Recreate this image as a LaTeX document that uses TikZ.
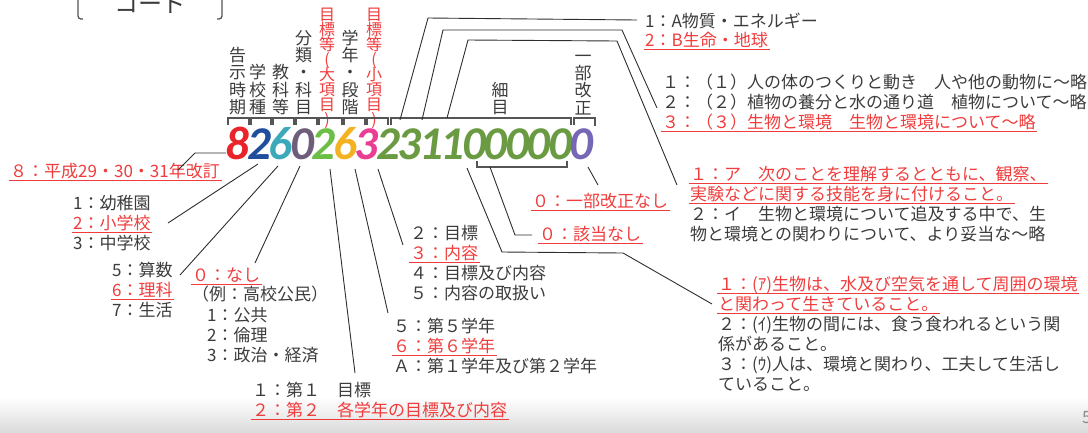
\documentclass[tikz,border=0pt]{standalone}
\usepackage{fontspec}
\setmainfont{Noto Sans CJK JP}
\newfontfamily\digfont{Carlito}
\usetikzlibrary{calc}
\definecolor{tred}{HTML}{F03C3C}
\definecolor{tblk}{HTML}{3C3C3C}
\definecolor{lnc}{HTML}{2E2E2E}
\definecolor{brk}{HTML}{555555}
\definecolor{c8}{HTML}{E8232A}
\definecolor{c2}{HTML}{1F4F9C}
\definecolor{c6}{HTML}{3BA9BA}
\definecolor{c0}{HTML}{6E5E7A}
\definecolor{cg}{HTML}{6BBE46}
\definecolor{co}{HTML}{F4B223}
\definecolor{cp}{HTML}{EA3E93}
\definecolor{col}{HTML}{6A9A42}
\definecolor{cpu}{HTML}{7566B6}
\tikzset{
  txt/.style={inner sep=0pt, anchor=base west, font={\fontsize{17}{20}\selectfont}, text=tblk},
  rtxt/.style={txt, text=tred},
  vlab/.style={inner sep=0pt, anchor=south, align=center, font={\fontsize{17}{17.3}\selectfont\lineskiplimit=-20pt}, text=tblk},
  rvlab/.style={inner sep=0pt, anchor=south, align=center, font={\fontsize{16}{15}\selectfont\lineskiplimit=-20pt}, text=tred},
  dig/.style={inner sep=0pt, anchor=base, font={\fontsize{47}{47}\digfont\bfseries\itshape}},
  conn/.style={draw=lnc, line width=0.9pt},
  brkt/.style={draw=brk, line width=1.2pt},
  uln/.style={draw=tred, line width=0.9pt},
}
\newcommand\ulin[1]{\draw[uln] ([xshift=-1.5pt,yshift=-3pt]#1.base west) -- ([xshift=1.5pt,yshift=-3pt]#1.base east);}
\begin{document}
\begin{tikzpicture}[x=1pt,y=-1pt]
\useasboundingbox (0,0) rectangle (1088,432);
\clip (0,0) rectangle (1088,432);
\shade[top color=white, bottom color=black!14] (0,397) rectangle (1088,432);
\node[txt, text=black!45] (pg) at (1082,423) {5};

% title
\node[inner sep=0pt, anchor=base, font={\fontsize{24}{24}\selectfont}, text=tblk] (title) at (150,12) {コード};
\draw[draw=brk, line width=1.3pt, rounded corners=3pt] (78,-4) -- (78,19) -- (83,19);
\draw[draw=brk, line width=1.3pt, rounded corners=3pt] (222,-4) -- (222,19) -- (217,19);

% digits
\foreach \ch/\cc [count=\i from 0] in {8/c8,2/c2,6/c6,0/c0,2/cg,6/co,3/cp,2/col,3/col,1/col,1/col,0/col,0/col,0/col,0/col,0/col,0/cpu}
  \node[dig, text=\cc] (d\i) at ({237.75+21.5*\i},159) {\ch};

% vertical labels
\node[vlab] (l1) at (237.5,115) {告\\示\\時\\期};
\node[vlab] (l2) at (257.5,115) {学\\校\\種};
\node[vlab] (l3) at (280.5,115) {教\\科\\等};
\node[vlab] (l4) at (303.5,115) {分\\類\\・\\科\\目};
\node[rvlab] (l5) at (327,129) {目\\標\\等\\(\\大\\項\\目\\)};
\node[vlab] (l6) at (350,115) {学\\年\\・\\段\\階};
\node[rvlab] (l7) at (374,129) {目\\標\\等\\(\\小\\項\\目\\)};
\node[vlab] (l8) at (500,115) {細\\目};
\node[vlab] (l9) at (583,115) {一\\部\\改\\正};

% brackets
\foreach \a/\b in {228/249,251/271,273/294,296/317,319/342,344/365,367/388}
  \draw[brkt] (\a,125) -- (\a,118) -- (\b,118) -- (\b,125);
\draw[brkt] (391,125) -- (391,118) -- (571,118) -- (571,125);
\draw[brkt] (574,125) -- (574,118) -- (595,118) -- (595,126);
\draw[brkt] (477,161) -- (477,167) -- (567,167) -- (567,161);

% text blocks
\node[txt] (a1) at (645,27) {1：A物質・エネルギー};
\node[rtxt] (a2) at (645,46) {2：B生命・地球}; \ulin{a2}

\node[txt] (b1) at (662,88) {１：（１）人の体のつくりと動き　人や他の動物に～略};
\node[txt] (b2) at (662,108) {２：（２）植物の養分と水の通り道　植物について～略};
\node[rtxt] (b3) at (662,128) {３：（３）生物と環境　生物と環境について～略}; \ulin{b3}

\node[rtxt] (c1) at (690,180) {１：ア　次のことを理解するとともに、観察、}; \ulin{c1}
\node[rtxt] (c2) at (690,200) {実験などに関する技能を身に付けること。}; \ulin{c2}
\node[txt] (c3) at (690,220) {２：イ　生物と環境について追及する中で、生};
\node[txt] (c4) at (690,240) {物と環境との関わりについて、より妥当な～略};

\node[rtxt] (e1) at (718,290) {１：(ｱ)生物は、水及び空気を通して周囲の環境}; \ulin{e1}
\node[rtxt] (e2) at (718,310) {と関わって生きていること。}; \ulin{e2}
\node[txt] (e3) at (718,330) {２：(ｲ)生物の間には、食う食われるという関};
\node[txt] (e4) at (718,350) {係があること。};
\node[txt] (e5) at (718,370) {３：(ｳ)人は、環境と関わり、工夫して生活し};
\node[txt] (e6) at (718,390) {ていること。};

\node[rtxt] (f1) at (10,177) {８：平成29・30・31年改訂}; \ulin{f1}

\node[txt] (g1) at (73,209) {1：幼稚園};
\node[rtxt] (g2) at (73,229) {2：小学校}; \ulin{g2}
\node[txt] (g3) at (73,249) {3：中学校};

\node[txt] (h1) at (112,276) {5：算数};
\node[rtxt] (h2) at (112,296) {6：理科}; \ulin{h2}
\node[txt] (h3) at (112,316) {7：生活};

\node[rtxt] (i1) at (192,281) {０：なし}; \ulin{i1}
\node[txt] (i2) at (192,300) {（例：高校公民）};
\node[txt] (i3) at (207,321) {1：公共};
\node[txt] (i4) at (207,341) {2：倫理};
\node[txt] (i5) at (207,361) {3：政治・経済};

\node[txt] (j1) at (252,396) {１：第１　目標};
\node[rtxt] (j2) at (252,416) {２：第２　各学年の目標及び内容}; \ulin{j2}

\node[txt] (k1) at (393,332) {５：第５学年};
\node[rtxt] (k2) at (393,352) {６：第６学年}; \ulin{k2}
\node[txt] (k3) at (393,372) {Ａ：第１学年及び第２学年};

\node[txt] (m1) at (410,239) {２：目標};
\node[rtxt] (m2) at (410,259) {３：内容}; \ulin{m2}
\node[txt] (m3) at (410,279) {４：目標及び内容};
\node[txt] (m4) at (410,299) {５：内容の取扱い};

\node[rtxt] (n1) at (532,207) {０：一部改正なし}; \ulin{n1}
\node[rtxt] (n2) at (539,240) {０：該当なし}; \ulin{n2}

% connectors
\draw[conn] (178,170) coordinate (x8) -- (195,153) -- (226,153) coordinate (y8);
\draw[conn] (168,223) coordinate (x2) -- (258,164) coordinate (y2);
\draw[conn] (180,275) coordinate (x6) -- (278,166) coordinate (y6);
\draw[conn] (255,263) coordinate (x0) -- (300,166) coordinate (y0);
\draw[conn] (330,169) coordinate (yg) -- (355,373) coordinate (xg);
\draw[conn] (355,169) coordinate (yo) -- (388,313) coordinate (xo);
\draw[conn] (378,169) coordinate (yp) -- (403,245) coordinate (xp);
\draw[conn] (400,120) coordinate (s1) -- (428,18) -- (637,20) coordinate (t1);
\draw[conn] (422,120) coordinate (s2) -- (443,30) -- (622,30) -- (657,108) coordinate (t2);
\draw[conn] (447,118) coordinate (s3) -- (468,40) -- (617,41) -- (677,185) coordinate (t3);
\draw[conn] (467,168) coordinate (s4) -- (502,252) -- (623,253) -- (712,304) coordinate (t4);
\draw[conn] (490,167) coordinate (s5) -- (515,235) -- (532,235) coordinate (t5);
\draw[conn] (588,167) coordinate (s6) -- (598,185) coordinate (t6);
\end{tikzpicture}
\end{document}
